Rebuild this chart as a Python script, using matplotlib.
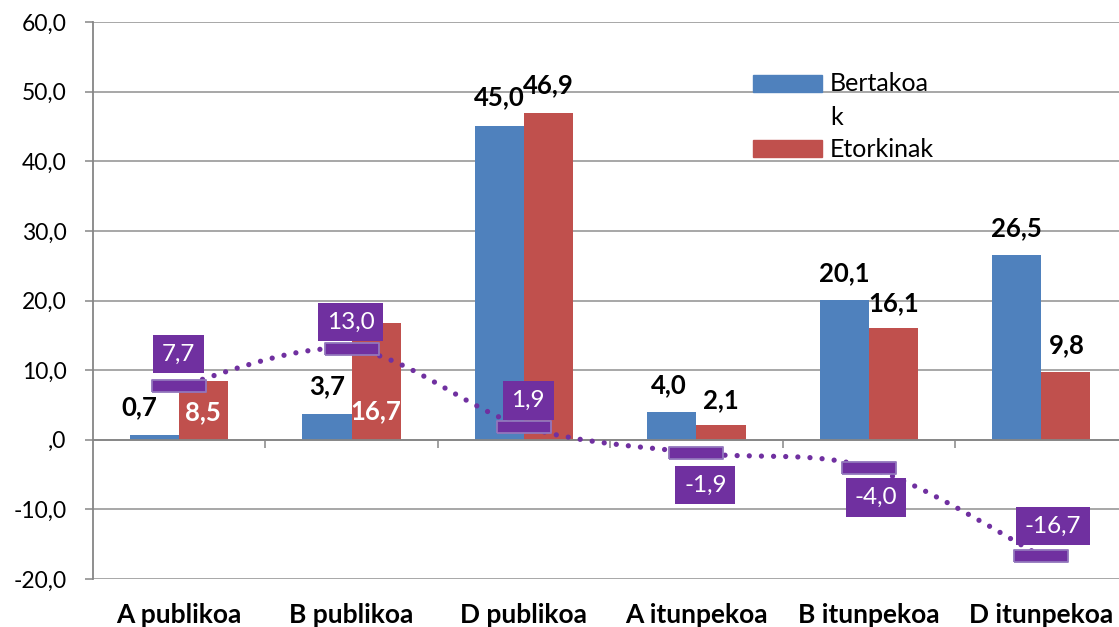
import numpy as np
import matplotlib
matplotlib.use("Agg")
import matplotlib.pyplot as plt
from matplotlib.path import Path
from matplotlib.patches import PathPatch, Rectangle

# data
categories = ["A publikoa", "B publikoa", "D publikoa", "A itunpekoa", "B itunpekoa", "D itunpekoa"]
bertakoak = [0.7, 3.7, 45.0, 4.0, 20.1, 26.5]
etorkinak = [8.5, 16.7, 46.9, 2.1, 16.1, 9.8]
aldea = [7.7, 13.0, 1.9, -1.9, -4.0, -16.7]
yticks = [-20, -10, 0, 10, 20, 30, 40, 50, 60]
ytick_labels = ["-20,0", "-10,0", ",0", "10,0", "20,0", "30,0", "40,0", "50,0", "60,0"]
series_names = ["Bertakoa\nk", "Etorkinak"]

# label offsets in pixels (dx, dy), tuned by eye
blue_off = [(-15, 28), (0, 28), (0, 29), (-3, 27), (0, 27), (0, 27)]
red_off = [(-1, -32), (0, -88), (0, 28), (0, 25), (0, 25), (1, 26)]
red_col = ["white", "white", "black", "black", "black", "black"]
diff_off = [(-1, 32), (-1, 27), (4, 26), (9, -32), (7, -30), (12, 30)]

BLUE = "#4F81BD"
RED = "#C0504D"
PURPLE = "#7030A0"
GRID = "#A0A0A0"
W, H = 1119, 627

plt.rcParams["font.family"] = ["Lato", "DejaVu Sans"]

fig = plt.figure(figsize=(W / 100, H / 100), dpi=100)
ax_left, ax_right, ax_top, ax_bot = 93, 93 + 6 * 172.4, 22, 579
ax = fig.add_axes([ax_left / W, 1 - ax_bot / H, (ax_right - ax_left) / W, (ax_bot - ax_top) / H])

x = np.arange(len(categories))
bw = 0.285
ax.bar(x - bw / 2, bertakoak, bw, color=BLUE, zorder=2)
ax.bar(x + bw / 2, etorkinak, bw, color=RED, zorder=2)

ax.set_xlim(-0.5, len(categories) - 0.5)
ax.set_ylim(-20, 60)
ax.set_yticks(yticks)
ax.set_yticklabels(ytick_labels, fontsize=16.5)
ax.yaxis.grid(True, color=GRID, lw=1.3, zorder=0)
ax.set_axisbelow(True)
ax.tick_params(axis="y", length=6, width=1.1, color="#868686", pad=13)

for s in ["top", "right"]:
    ax.spines[s].set_visible(False)
ax.spines["left"].set_color("#868686")
ax.spines["left"].set_linewidth(1.3)
ax.spines["bottom"].set_position(("data", 0))
ax.spines["bottom"].set_color("#868686")
ax.spines["bottom"].set_linewidth(1.3)
ax.set_xticks(x[:-1] + 0.5)
ax.set_xticklabels([])
ax.tick_params(axis="x", length=6, width=1.1, color="#868686")

# category names at the bottom of the figure
trans = matplotlib.transforms.blended_transform_factory(ax.transData, fig.transFigure)
for xi, c in zip(x, categories):
    ax.text(xi, 1 - 623 / H, c, transform=trans, ha="center", va="baseline",
            fontsize=19, fontweight="bold", clip_on=False)

# bar value labels
for xi, v, (dx, dy) in zip(x, bertakoak, blue_off):
    ax.annotate(f"{v:.1f}".replace(".", ","), (xi - bw / 2, v), xytext=(dx, dy),
                textcoords="offset pixels", ha="center", va="center",
                fontsize=18.5, fontweight="bold", color="black", zorder=5)
for xi, v, (dx, dy), c in zip(x, etorkinak, red_off, red_col):
    ax.annotate(f"{v:.1f}".replace(".", ","), (xi + bw / 2, v), xytext=(dx, dy),
                textcoords="offset pixels", ha="center", va="center",
                fontsize=18.5, fontweight="bold", color=c, zorder=5)

# smoothed dotted difference line (cubic bezier, catmull-rom style control points)
pts = np.column_stack([x, aldea]).astype(float)
ext = np.vstack([pts[0], pts, pts[-1]])
verts = [pts[0]]
codes = [Path.MOVETO]
for i in range(len(pts) - 1):
    p0, p1, p2, p3 = ext[i], ext[i + 1], ext[i + 2], ext[i + 3]
    verts += [p1 + (p2 - p0) / 6, p2 - (p3 - p1) / 6, p2]
    codes += [Path.CURVE4] * 3
line = PathPatch(Path(verts, codes), fill=False, edgecolor=PURPLE, lw=3.8,
                 linestyle=(0, (0.001, 2.3)), capstyle="round", zorder=3)
ax.add_patch(line)

rect = Path([(-0.5, -0.102), (0.5, -0.102), (0.5, 0.102), (-0.5, 0.102), (-0.5, -0.102)])
ax.plot(x, aldea, linestyle="none", marker=rect, markersize=39, color=PURPLE,
        mec="#9276BC", mew=1.3, zorder=4)

for xi, v, (dx, dy) in zip(x, aldea, diff_off):
    ax.annotate(f"{v:.1f}".replace(".", ","), (xi, v), xytext=(dx, dy),
                textcoords="offset pixels", ha="center", va="center",
                fontsize=17.5, color="white", zorder=6,
                bbox=dict(boxstyle="square,pad=0.36", fc=PURPLE, ec="none"))

# legend drawn by hand (wrapped label as in the original)
def fx(px):
    return px / W

def fy(py):
    return 1 - py / H

for (top, bot), col in zip([(75, 92), (140, 157)], [BLUE, RED]):
    fig.patches.append(Rectangle((fx(753), fy(bot)), fx(822) - fx(753), fy(top) - fy(bot),
                                 transform=fig.transFigure, color=col, zorder=5))
fig.text(fx(830), fy(91), "Bertakoa", fontsize=18, va="baseline")
fig.text(fx(830), fy(125), "k", fontsize=18, va="baseline")
fig.text(fx(830), fy(157), series_names[1], fontsize=18, va="baseline")

fig.savefig("out.png", dpi=100)
